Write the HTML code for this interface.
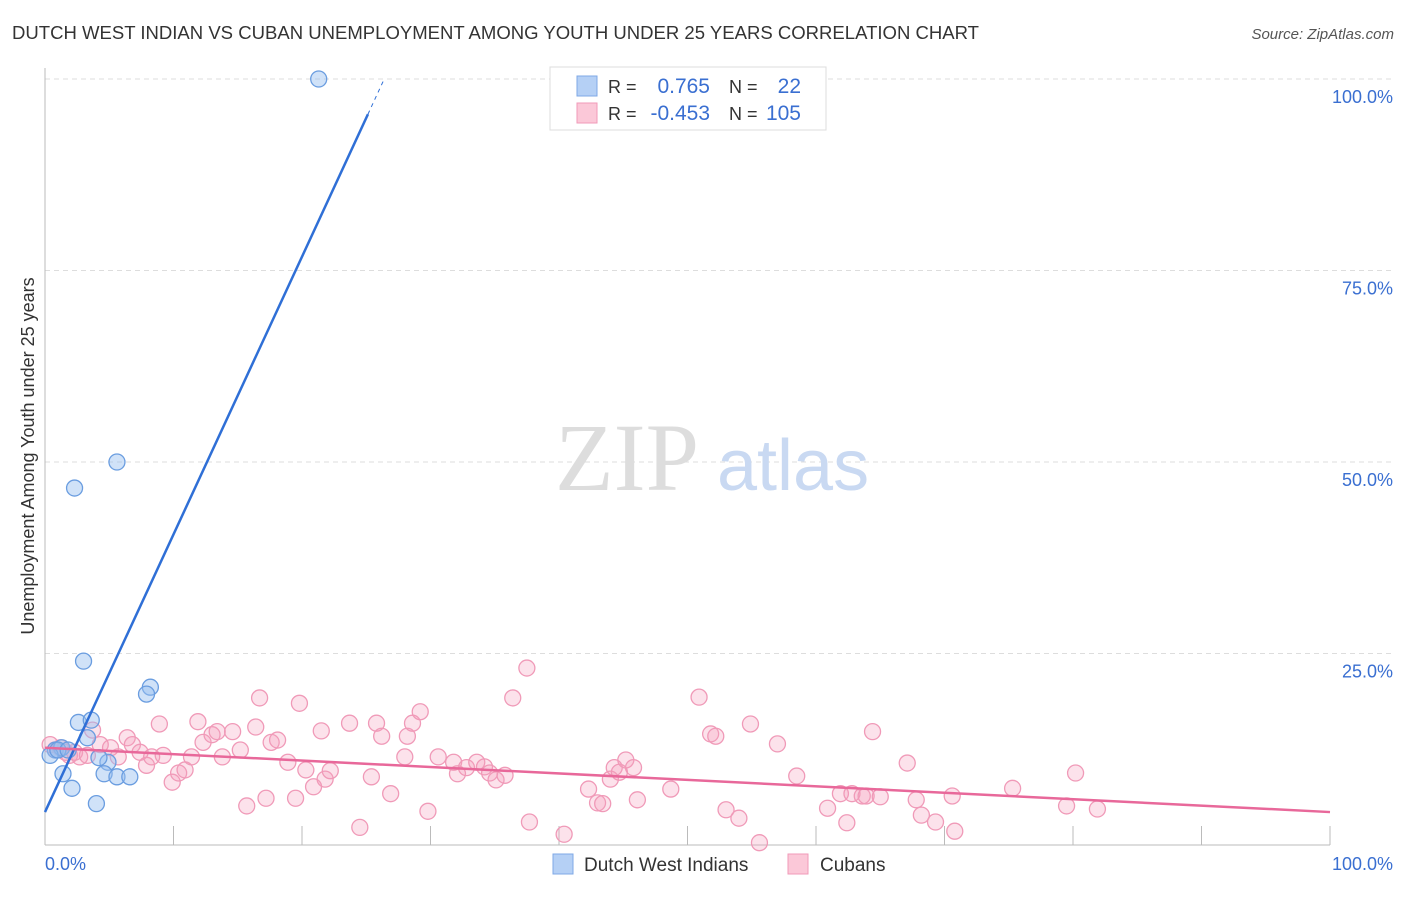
<!DOCTYPE html>
<html><head><meta charset="utf-8"><style>
body{margin:0;background:#fff;font-family:"Liberation Sans",sans-serif;}
</style></head><body>
<svg id="c" width="1406" height="892" xmlns="http://www.w3.org/2000/svg"></svg>
<script>
const blueX=[21.3,5.6,2.3,3.0,8.2,7.9,2.6,3.6,0.8,1.3,0.4,1.0,3.3,4.9,4.6,5.6,6.6,1.4,2.1,4.0,4.2,1.8];
const blueY=[100,50,46.6,24,20.6,19.7,16,16.3,12.4,12.7,11.7,12.4,14.0,10.8,9.3,8.9,8.9,9.3,7.4,5.4,11.4,12.4];
const pinkPx=[[50,745],[55,750],[60,748],[65,752],[70,755],[75,752],[80,757],[88,755],[93,730],[100,745],[110,748],[118,757],[127,738],[133,745],[140,752],[147,765],[152,757],[159,724],[163,755],[172,782],[178,773],[185,770],[191,757],[198,722],[203,742],[212,735],[217,732],[222,757],[232,732],[240,750],[247,806],[256,727],[259,698],[266,798],[271,742],[278,740],[288,762],[295,798],[300,703],[306,770],[313,787],[321,731],[325,779],[330,771],[349,723],[360,827],[371,777],[376,723],[382,736],[391,794],[405,757],[407,736],[413,723],[420,712],[428,811],[438,757],[454,762],[457,774],[466,768],[477,762],[484,767],[490,773],[496,780],[505,775],[513,698],[527,668],[529,822],[564,834],[589,789],[597,803],[603,804],[610,779],[614,768],[620,772],[626,760],[633,768],[637,800],[671,789],[699,697],[711,734],[716,736],[726,810],[739,818],[751,724],[759,843],[777,744],[797,776],[827,808],[840,794],[847,823],[852,794],[862,796],[866,796],[873,732],[880,797],[907,763],[916,800],[921,815],[935,822],[952,796],[955,831],[1012,788],[1066,806],[1075,773],[1097,809]];
const pinkX=pinkPx.map(p=>+((p[0]-45)/12.85).toFixed(1));
const pinkY=pinkPx.map(p=>+((845-p[1])/7.66).toFixed(1));
const yTicks=[25,50,75,100];
const yTickLabels=["25.0%","50.0%","75.0%","100.0%"];
const blueLine=[4.3,3.625];   // intercept, slope
const pinkLine=[12.7,4.3];  // y at x=0, y at x=100

const L=45,R=1330,T=79,B=845;
const sx=v=>L+v/100*(R-L), sy=v=>B-v/100*(B-T);
const svg=document.getElementById('c');
function el(t,a,txt){const e=document.createElementNS('http://www.w3.org/2000/svg',t);for(const k in a)e.setAttribute(k,a[k]);if(txt!==undefined)e.textContent=txt;svg.appendChild(e);return e;}
let e;
e=el('text',{x:12,y:39,'font-size':18,fill:'#333',textLength:967,lengthAdjust:'spacingAndGlyphs'},'DUTCH WEST INDIAN VS CUBAN UNEMPLOYMENT AMONG YOUTH UNDER 25 YEARS CORRELATION CHART');

e=el('text',{x:1394,y:39,'font-size':15,fill:'#555','text-anchor':'end','font-style':'italic'},'Source: ZipAtlas.com');

yTicks.forEach((t,i)=>{
 e=el('line',{x1:L,x2:1395,y1:sy(t),y2:sy(t),stroke:'#ddd','stroke-dasharray':'5,4'});
 
 e=el('text',{x:1393,y:sy(t)+24,'font-size':18,fill:'#3a6fd1','text-anchor':'end'},yTickLabels[i]);
 
});
e=el('line',{x1:L,x2:L,y1:68,y2:B,stroke:'#bbb'});
e=el('line',{x1:L,x2:R,y1:B,y2:B,stroke:'#bbb'});
for(let i=0;i<=10;i++){e=el('line',{x1:sx(i*10),x2:sx(i*10),y1:B,y2:826,stroke:'#bbb'});}
e=el('text',{x:45,y:870,'font-size':18,fill:'#3a6fd1'},'0.0%');
e=el('text',{x:1393,y:870,'font-size':18,fill:'#3a6fd1','text-anchor':'end'},'100.0%');
e=el('text',{x:34,y:456,'font-size':18,fill:'#333','text-anchor':'middle',transform:'rotate(-90 34 456)'},'Unemployment Among Youth under 25 years');

e=el('text',{x:555,y:490,'font-size':96,fill:'#ddd','font-family':'Liberation Serif'},'ZIP');
e=el('text',{x:717,y:490,'font-size':72,fill:'#c9d9f2'},'atlas');
pinkX.forEach((x,i)=>{e=el('circle',{cx:sx(x),cy:sy(pinkY[i]),r:8,fill:'rgba(244,160,190,0.3)',stroke:'#f09ab8','stroke-width':1.3});
 });
blueX.forEach((x,i)=>{e=el('circle',{cx:sx(x),cy:sy(blueY[i]),r:8,fill:'rgba(150,190,240,0.45)',stroke:'#6a9de0','stroke-width':1.3});
 });
const bxSolid=(95.4-blueLine[0])/blueLine[1], bxTop=(100-blueLine[0])/blueLine[1];
e=el('line',{x1:sx(0),y1:sy(blueLine[0]),x2:sx(bxSolid),y2:sy(95.4),stroke:'#2f6fd6','stroke-width':2.5});

e=el('line',{x1:sx(bxSolid),y1:sy(95.4),x2:sx(bxTop),y2:sy(100),stroke:'#2f6fd6','stroke-width':1,'stroke-dasharray':'4,4'});

e=el('line',{x1:sx(0),y1:sy(pinkLine[0]),x2:sx(100),y2:sy(pinkLine[1]),stroke:'#e8689a','stroke-width':2.5});

e=el('rect',{x:550,y:67,width:276,height:63,fill:'#fff',stroke:'#ddd'});
e=el('rect',{x:577,y:76,width:20,height:20,fill:'#b5d0f5',stroke:'#7fa8e6'});
e=el('rect',{x:577,y:103,width:20,height:20,fill:'#fbc8d8',stroke:'#f09ab8'});
[["R =",608,93,'#333'],["0.765",710,93,'#3a6fd1','end'],["N =",729,93,'#333'],["22",801,93,'#3a6fd1','end'],
 ["R =",608,120,'#333'],["-0.453",710,120,'#3a6fd1','end'],["N =",729,120,'#333'],["105",801,120,'#3a6fd1','end']].forEach(a=>{
 e=el('text',{x:a[1],y:a[2],'font-size':a[3]=='#333'?18:21,fill:a[3],'text-anchor':a[4]||'start'},a[0]);
 });
e=el('rect',{x:553,y:854,width:20,height:20,fill:'#b5d0f5',stroke:'#7fa8e6'});
e=el('text',{x:584,y:871,'font-size':19,fill:'#333'},'Dutch West Indians');
e=el('rect',{x:788,y:854,width:20,height:20,fill:'#fbc8d8',stroke:'#f09ab8'});
e=el('text',{x:820,y:871,'font-size':19,fill:'#333'},'Cubans');
</script>
</body></html>
